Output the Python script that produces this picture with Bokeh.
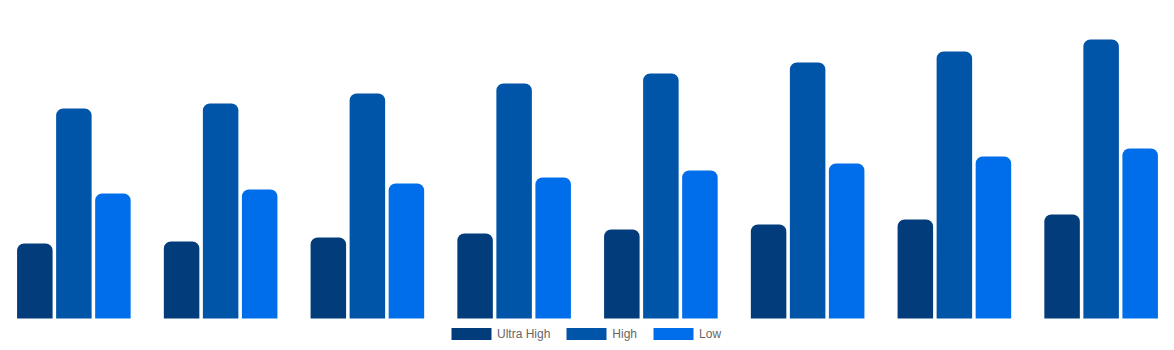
from bokeh.plotting import figure
from bokeh.models import ColumnDataSource, FactorRange, Range1d, Legend, LegendItem
from bokeh.transform import dodge
from bokeh.embed import file_html
from bokeh.resources import INLINE

categories = ["1", "2", "3", "4", "5", "6", "7", "8"]
ultra_high = [75, 77, 81, 85, 89, 94, 99, 104]
high = [210, 215, 225, 235, 245, 256, 267, 279]
low = [125, 129, 135, 141, 148, 155, 162, 170]

series_names = ["Ultra High", "High", "Low"]
colors = ["#023C7A", "#0055A8", "#006EEA"]

src = ColumnDataSource(dict(cat=categories, ultra=ultra_high, high=high, low=low))

p = figure(width=1174, height=350, x_range=FactorRange(factors=categories, range_padding=0),
           y_range=Range1d(-32, 318), output_backend="svg", toolbar_location=None,
           min_border=0, outline_line_color=None)
p.axis.visible = False
p.xgrid.visible = False
p.ygrid.visible = False

offsets = [-0.266, 0.0, 0.266]
fields = ["ultra", "high", "low"]
renderers = []
for f, off, c in zip(fields, offsets, colors):
    r = p.vbar(x=dodge("cat", off, range=p.x_range), top=f, bottom=0, width=0.242,
               source=src, fill_color=c, line_color=None, border_radius=(7, 7, 0, 0))
    renderers.append(r)

legend = Legend(items=[LegendItem(label=n, renderers=[r]) for n, r in zip(series_names, renderers)],
                orientation="horizontal", location=(446, 9),
                glyph_width=50, glyph_height=15, label_standoff=1, spacing=11,
                padding=0, margin=0, border_line_color=None, background_fill_alpha=0,
                label_text_font="Liberation Sans", label_text_font_size="12px",
                label_text_color="#666666", label_height=15)
p.add_layout(legend)

open("out.html", "w").write(file_html(p, INLINE))
